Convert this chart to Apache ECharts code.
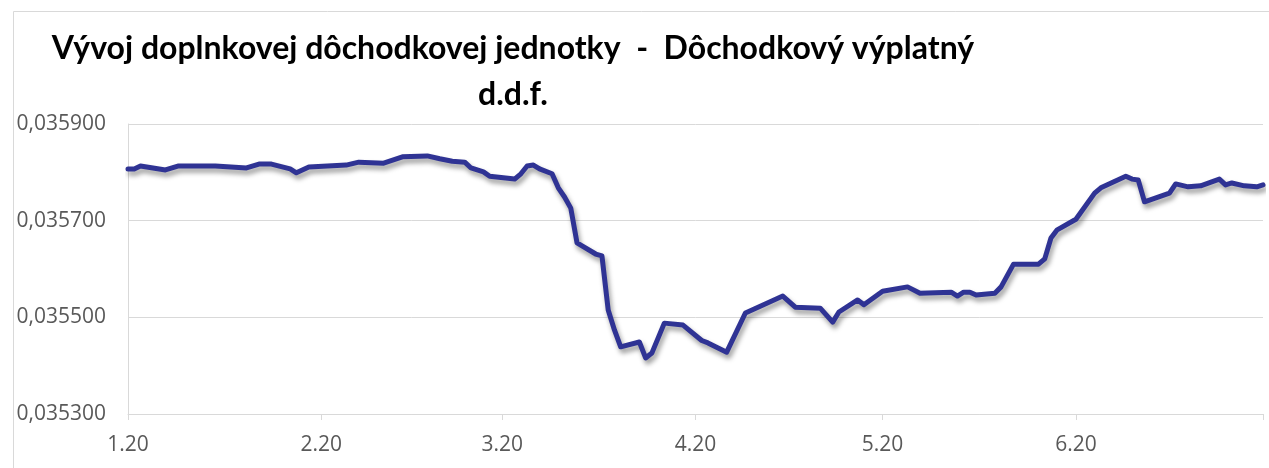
<!DOCTYPE html>
<html>
<head>
<meta charset="utf-8">
<script src="https://cdn.jsdelivr.net/npm/echarts@6/dist/echarts.min.js"></script>
<style>
  html, body { margin: 0; padding: 0; background: #fff; }
  #chart { width: 1269px; height: 468px; }
</style>
</head>
<body>
<div id="chart"></div>
<script>
// hodnota d.d.j. podla dni
var dates = [
  '2020-01-01', '2020-01-02', '2020-01-03', '2020-01-07', '2020-01-09', '2020-01-15', '2020-01-20',
  '2020-01-22', '2020-01-24', '2020-01-27', '2020-01-28', '2020-01-30',
  '2020-02-05', '2020-02-07', '2020-02-11', '2020-02-14', '2020-02-18', '2020-02-20', '2020-02-22',
  '2020-02-24', '2020-02-25', '2020-02-27', '2020-02-28',
  '2020-03-03', '2020-03-04', '2020-03-05', '2020-03-06', '2020-03-07', '2020-03-09', '2020-03-10',
  '2020-03-11', '2020-03-12', '2020-03-13', '2020-03-16', '2020-03-17', '2020-03-18', '2020-03-19',
  '2020-03-20', '2020-03-23', '2020-03-24', '2020-03-25', '2020-03-27', '2020-03-30',
  '2020-04-02', '2020-04-03', '2020-04-06', '2020-04-09', '2020-04-15', '2020-04-17', '2020-04-21',
  '2020-04-23', '2020-04-24', '2020-04-27', '2020-04-28',
  '2020-05-01', '2020-05-05', '2020-05-07', '2020-05-12', '2020-05-13', '2020-05-14', '2020-05-15',
  '2020-05-16', '2020-05-19', '2020-05-20', '2020-05-22', '2020-05-26', '2020-05-27', '2020-05-28',
  '2020-05-29',
  '2020-06-01', '2020-06-04', '2020-06-05', '2020-06-09', '2020-06-10', '2020-06-11', '2020-06-12',
  '2020-06-16', '2020-06-17', '2020-06-19', '2020-06-21', '2020-06-24', '2020-06-25', '2020-06-26',
  '2020-06-28', '2020-06-30', '2020-07-01'
];
var values = [
  0.035807, 0.035807, 0.035813, 0.035805, 0.035813, 0.035813, 0.035809,
  0.035817, 0.035817, 0.035807, 0.035799, 0.035811,
  0.035815, 0.035821, 0.035819, 0.035832, 0.035834, 0.035828, 0.035823,
  0.035821, 0.035809, 0.035801, 0.035792,
  0.035786, 0.035797, 0.035813, 0.035815, 0.035807, 0.035797, 0.035768,
  0.035749, 0.035726, 0.035654, 0.035631, 0.035627, 0.035515, 0.035474,
  0.035439, 0.035449, 0.035416, 0.035426, 0.035488, 0.035484,
  0.035452, 0.035447, 0.035428, 0.035509, 0.035544, 0.035521, 0.035519,
  0.035490, 0.035511, 0.035536, 0.035526,
  0.035554, 0.035563, 0.035550, 0.035552, 0.035544, 0.035552, 0.035552,
  0.035546, 0.035550, 0.035563, 0.035610, 0.035610, 0.035621, 0.035664,
  0.035681,
  0.035703, 0.035757, 0.035768, 0.035792, 0.035786, 0.035784, 0.035739,
  0.035757, 0.035776, 0.035770, 0.035772, 0.035786, 0.035774, 0.035778,
  0.035772, 0.035770, 0.035774
];
// mesacne ciarky na osi x
var monthTicks = ['2020-01-01', '2020-02-01', '2020-03-01', '2020-04-01', '2020-05-01', '2020-06-01', '2020-07-01'];
var monthLabels = ['2020-01-01', '2020-02-01', '2020-03-01', '2020-04-01', '2020-05-01', '2020-06-01'];
var yMin = 0.0353;
var yMax = 0.0359;
var yStep = 0.0002;

var titleText = 'Vývoj doplnkovej dôchodkovej jednotky  -  Dôchodkový výplatný\nd.d.f.';

function toTime(s) {
  var p = s.split('-');
  return new Date(+p[0], +p[1] - 1, +p[2]).getTime();
}

var chart = echarts.init(document.getElementById('chart'), null, { renderer: 'canvas' });

var seriesData = [];
for (var i = 0; i < dates.length; i++) {
  seriesData.push([toTime(dates[i]), values[i]]);
}
var tickTimes = monthTicks.map(toTime);
var labelTimes = monthLabels.map(toTime);

var option = {
  backgroundColor: '#fff',
  animation: false,
  title: {
    text: titleText,
    left: 508,
    top: 21,
    textAlign: 'center',
    textStyle: {
      fontFamily: 'Lato',
      fontWeight: 'bold',
      fontSize: 32,
      lineHeight: 46,
      color: '#000'
    }
  },
  graphic: [
    {
      type: 'rect',
      left: 11,
      top: 9,
      shape: { width: 1300, height: 500 },
      style: { fill: 'none', stroke: '#d9d9d9', lineWidth: 1 },
      z: -1
    }
  ],
  grid: {
    left: 128,
    right: 6,
    top: 124,
    bottom: 54,
    containLabel: false,
    outerBoundsMode: 'none'
  },
  xAxis: {
    type: 'value',
    min: tickTimes[0],
    max: tickTimes[tickTimes.length - 1],
    axisLine: { show: true, lineStyle: { color: '#d9d9d9', width: 1 } },
    axisTick: {
      show: true,
      length: 6,
      lineStyle: { color: '#d9d9d9' },
      customValues: tickTimes
    },
    axisLabel: {
      color: '#595959',
      fontFamily: 'Open Sans',
      fontSize: 21,
      margin: 21,
      hideOverlap: false,
      customValues: labelTimes,
      formatter: function (val) {
        var d = new Date(val);
        return (d.getMonth() + 1) + '.' + String(d.getFullYear()).slice(2);
      }
    },
    splitLine: { show: false }
  },
  yAxis: {
    type: 'value',
    min: yMin,
    max: yMax,
    interval: yStep,
    axisLine: { show: true, lineStyle: { color: '#d9d9d9', width: 1 } },
    axisTick: { show: false },
    axisLabel: {
      color: '#595959',
      fontFamily: 'Open Sans',
      fontSize: 21,
      margin: 22,
      formatter: function (v) {
        return v.toFixed(6).replace('.', ',');
      }
    },
    splitLine: { show: true, lineStyle: { color: '#d9d9d9', width: 1 } }
  },
  series: [
    {
      name: 'Dôchodkový výplatný d.d.f.',
      type: 'line',
      data: seriesData,
      showSymbol: false,
      smooth: false,
      lineStyle: {
        color: '#2f3394',
        width: 5,
        cap: 'round',
        join: 'round',
        shadowColor: 'rgba(0,0,0,0.4)',
        shadowBlur: 5,
        shadowOffsetX: 2,
        shadowOffsetY: 4
      }
    }
  ]
};
chart.setOption(option);
</script>
</body>
</html>
